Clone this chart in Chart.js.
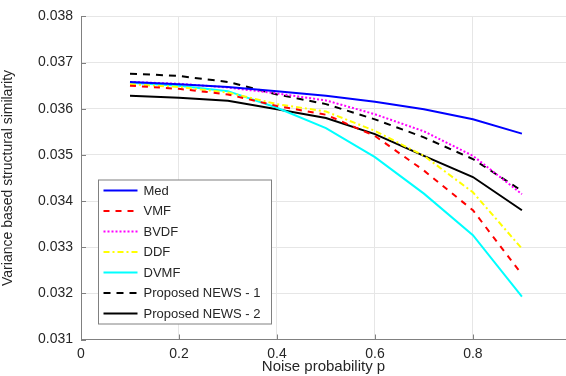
<!DOCTYPE html>
<html>
<head>
<meta charset="utf-8">
<script src="https://cdn.jsdelivr.net/npm/chart.js@4/dist/chart.umd.min.js"></script>
<style>
  body { margin: 0; background: #fff; }
  #wrap { width: 566px; height: 376px; }
</style>
</head>
<body>
<div id="wrap"><canvas id="myChart"></canvas></div>
<script>
// noise probability on the x axis
var noiseP = [0.1, 0.2, 0.3, 0.4, 0.5, 0.6, 0.7, 0.8, 0.9];

// variance based structural similarity, one array per filter
var medVals    = [0.03658, 0.03653, 0.03647, 0.03638, 0.03628, 0.03615, 0.03599, 0.03577, 0.03546];
var vmfVals    = [0.03650, 0.03643, 0.03631, 0.03606, 0.03587, 0.03541, 0.03466, 0.03380, 0.03241];
var bvdfVals   = [0.03658, 0.03654, 0.03646, 0.03633, 0.03618, 0.03588, 0.03551, 0.03498, 0.03415];
var ddfVals    = [0.03653, 0.03647, 0.03635, 0.03610, 0.03594, 0.03552, 0.03498, 0.03419, 0.03297];
var dvmfVals   = [0.03656, 0.03650, 0.03638, 0.03602, 0.03558, 0.03495, 0.03416, 0.03326, 0.03193];
var news1Vals  = [0.03676, 0.03671, 0.03658, 0.03631, 0.03610, 0.03577, 0.03538, 0.03491, 0.03422];
var news2Vals  = [0.03628, 0.03624, 0.03617, 0.03599, 0.03580, 0.03545, 0.03498, 0.03452, 0.03380];

var seriesNames = ['Med', 'VMF', 'BVDF', 'DDF', 'DVMF', 'Proposed NEWS - 1', 'Proposed NEWS - 2'];

function pts(vals) {
    return noiseP.map(function (p, i) { return { x: p, y: vals[i] }; });
}

function makeSet(name, vals, color, dash) {
    return {
        label: name,
        data: pts(vals),
        borderColor: color,
        backgroundColor: color,
        borderWidth: 2,
        borderDash: dash,
        pointRadius: 0,
        tension: 0,
        fill: false
    };
}

var axisColor = '#808080';
var gridColor = '#e6e6e6';
var fontFam = 'Helvetica, Arial, "Liberation Sans", sans-serif';

// legend drawn inside the plot, lower left, like matlab's "southwest"
var insideLegend = {
    id: 'insideLegend',
    afterDraw: function (chart) {
        var ctx = chart.ctx;
        var area = chart.chartArea;
        var x0 = area.left + 17.5, y0 = area.bottom - 159.5;
        var w = 173, h = 144;
        ctx.save();
        ctx.fillStyle = '#fff';
        ctx.fillRect(x0, y0, w, h);
        ctx.strokeStyle = axisColor;
        ctx.lineWidth = 1;
        ctx.strokeRect(x0, y0, w, h);
        ctx.font = '13px ' + fontFam;
        ctx.textBaseline = 'middle';
        ctx.textAlign = 'left';
        chart.data.datasets.forEach(function (ds, i) {
            var y = y0 + 10.5 + i * 20.5;
            ctx.beginPath();
            ctx.setLineDash(ds.borderDash || []);
            ctx.strokeStyle = ds.borderColor;
            ctx.lineWidth = 2;
            ctx.moveTo(x0 + 5, y);
            ctx.lineTo(x0 + 39, y);
            ctx.stroke();
            ctx.setLineDash([]);
            ctx.fillStyle = '#262626';
            ctx.fillText(ds.label, x0 + 45, y + 0.5);
        });
        ctx.restore();
    }
};

// small tick marks pointing into the plot
var innerTicks = {
    id: 'innerTicks',
    afterDatasetsDraw: function (chart) {
        var ctx = chart.ctx;
        var area = chart.chartArea;
        var xs = chart.scales.x, ys = chart.scales.y;
        ctx.save();
        ctx.strokeStyle = axisColor;
        ctx.lineWidth = 1;
        ctx.beginPath();
        xs.ticks.forEach(function (t) {
            var px = Math.round(xs.getPixelForValue(t.value)) + 0.5;
            ctx.moveTo(px, area.bottom);
            ctx.lineTo(px, area.bottom - 5);
        });
        ys.ticks.forEach(function (t) {
            var py = Math.round(ys.getPixelForValue(t.value)) + 0.5;
            ctx.moveTo(area.left, py);
            ctx.lineTo(area.left + 5, py);
        });
        ctx.stroke();
        ctx.restore();
    }
};

const ctx = document.getElementById('myChart').getContext('2d');
const myChart = new Chart(ctx, {
    type: 'line',
    data: {
        datasets: [
            makeSet(seriesNames[0], medVals, '#0000ff', []),
            makeSet(seriesNames[1], vmfVals, '#ff0000', [6, 6]),
            makeSet(seriesNames[2], bvdfVals, '#ff00ff', [2, 2]),
            makeSet(seriesNames[3], ddfVals, '#ffff00', [6, 3, 2, 3]),
            makeSet(seriesNames[4], dvmfVals, '#00ffff', []),
            makeSet(seriesNames[5], news1Vals, '#000000', [7, 6]),
            makeSet(seriesNames[6], news2Vals, '#000000', [])
        ]
    },
    options: {
        responsive: true,
        maintainAspectRatio: false,
        animation: false,
        layout: { padding: { top: 15, right: 0, left: 0, bottom: 0 } },
        plugins: {
            legend: { display: false },
            tooltip: { enabled: false }
        },
        scales: {
            x: {
                type: 'linear',
                min: 0,
                max: 0.99,
                afterFit: function (scale) { scale.height = 36.5; },
                ticks: {
                    stepSize: 0.2,
                    includeBounds: false,
                    padding: 6,
                    color: '#262626',
                    font: { family: fontFam, size: 14 },
                    maxRotation: 0,
                    callback: function (v) { return v === 0 ? '0' : v.toFixed(1); }
                },
                grid: { color: gridColor, drawTicks: false },
                border: { color: axisColor },
                title: {
                    display: true,
                    text: 'Noise probability p',
                    color: '#262626',
                    font: { family: fontFam, size: 15 },
                    padding: { top: 0, bottom: 0 }
                }
            },
            y: {
                min: 0.031,
                max: 0.038,
                afterFit: function (scale) { scale.width = 81; },
                ticks: {
                    stepSize: 0.001,
                    padding: 8,
                    color: '#262626',
                    font: { family: fontFam, size: 14 },
                    callback: function (v) { return v.toFixed(3); }
                },
                grid: { color: gridColor, drawTicks: false },
                border: { color: axisColor },
                title: {
                    display: true,
                    text: 'Variance based structural similarity',
                    color: '#262626',
                    font: { family: fontFam, size: 14 },
                    padding: { top: 0, bottom: 0 }
                }
            }
        }
    },
    plugins: [innerTicks, insideLegend]
});
</script>
</body>
</html>
